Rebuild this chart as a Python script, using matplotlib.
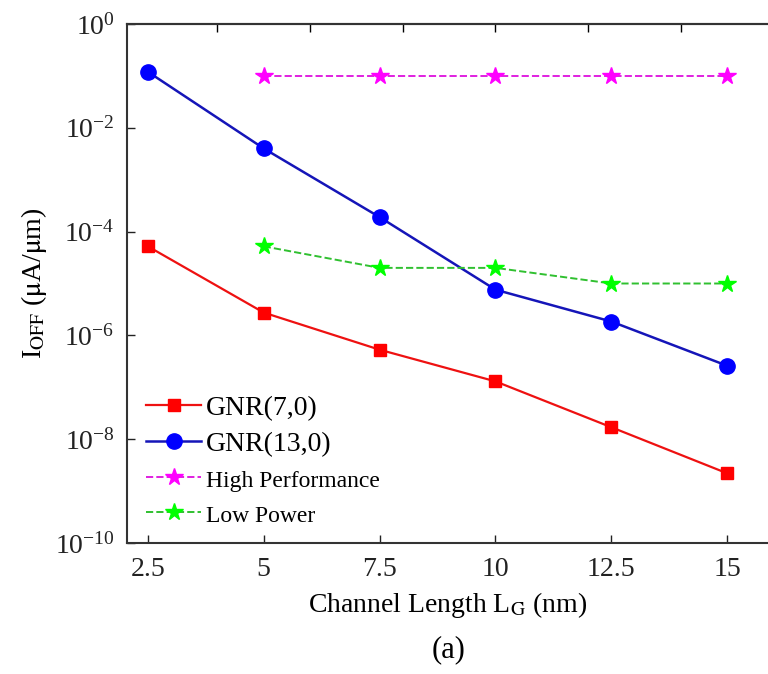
import numpy as np
import matplotlib
matplotlib.use("Agg")
import matplotlib.pyplot as plt
from matplotlib.ticker import NullLocator

plt.rcParams['font.family'] = ['Liberation Serif', 'DejaVu Serif']
plt.rcParams['mathtext.fontset'] = 'stix'

# channel length (nm)
lg = [2.5, 5, 7.5, 10, 12.5, 15]
lg_ref = [5, 7.5, 10, 12.5, 15]

# off current (uA/um)
ioff_7 = [5.2e-5, 2.75e-6, 5.3e-7, 1.3e-7, 1.7e-8, 2.2e-9]
ioff_13 = [0.12, 4.0e-3, 1.9e-4, 7.6e-6, 1.85e-6, 2.6e-7]
ioff_hp = [0.1, 0.1, 0.1, 0.1, 0.1]
ioff_lp = [5.2e-5, 2.0e-5, 2.0e-5, 1.0e-5, 1.0e-5]

xticks = [2.5, 5, 7.5, 10, 12.5, 15]
top_ticks = [4, 6, 8, 10, 12, 14]
yticks = [1e-10, 1e-8, 1e-6, 1e-4, 1e-2, 1e0]

fig = plt.figure(figsize=(7.68, 6.74), dpi=100)
ax = fig.add_axes([127/768, 131/674, 1 - 127/768, 519/674])

ax.plot(lg, ioff_7, '-s', color='#ee1111', mfc='#ff0000', mec='#ff0000',
        lw=1.6, ms=9, label='GNR(7,0)')
ax.plot(lg, ioff_13, '-o', color='#1515b8', mfc='#0000ff', mec='#0000ff',
        lw=1.8, ms=11, label='GNR(13,0)')
ax.plot(lg_ref, ioff_hp, '--*', color='#e020e0', mfc='#ff00ff', mec='#ff00ff',
        lw=1.4, ms=13, label='High Performance')
ax.plot(lg_ref, ioff_lp, '--*', color='#30c030', mfc='#00ff00', mec='#00ff00',
        lw=1.4, ms=13, label='Low Power')

ax.set_yscale('log')
ax.set_xlim(2.05, 15.88)
ax.set_ylim(1e-10, 1e0)
ax.set_xticks(xticks)
ax.set_xticklabels(['2.5', '5', '7.5', '10', '12.5', '15'])
ax.set_yticks(yticks)
ax.yaxis.set_minor_locator(NullLocator())
ax.tick_params(direction='in', length=6, width=1, labelsize=20,
               colors='#222222')
ax.tick_params(axis='x', pad=10)
ax.tick_params(axis='y', pad=9)

top = ax.secondary_xaxis('top')
top.set_xticks(top_ticks)
top.tick_params(direction='in', length=6, width=1, labeltop=False)

for s in ['left', 'bottom', 'top']:
    ax.spines[s].set_linewidth(1.5)
    ax.spines[s].set_color('#333333')
ax.spines['right'].set_visible(False)
top.spines['top'].set_linewidth(1.5)
top.spines['top'].set_color('#333333')

ax.set_xlabel(r'Channel Length L$_{\mathrm{G}}$ (nm)', fontsize=20, labelpad=6)
ax.set_ylabel(r'I$_{\mathrm{OFF}}$ ($\mathrm{\mu}$A/$\mathrm{\mu}$m)', fontsize=20,
              labelpad=4)
fig.text(127/768 + (1 - 127/768) / 2 + 0.002, 0.025, '(a)', ha='center',
         fontsize=22)

leg = ax.legend(loc='lower left', bbox_to_anchor=(0.012, 0.01), frameon=False,
                fontsize=20, handlelength=2.0, handletextpad=0.15,
                labelspacing=0.38, borderaxespad=0)
for t in leg.get_texts()[2:]:
    t.set_fontsize(17)

fig.savefig('out.png', dpi=100)
